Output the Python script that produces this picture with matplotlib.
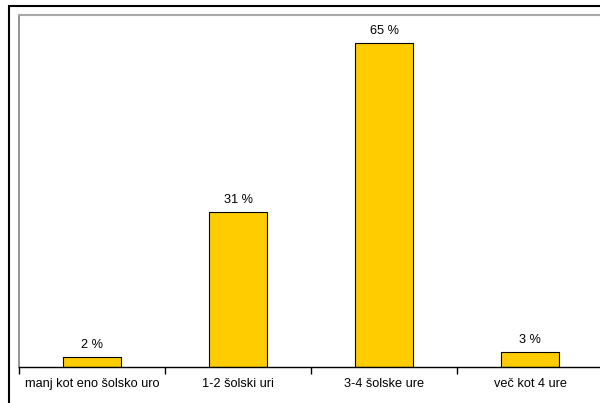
import matplotlib
matplotlib.use("Agg")
import matplotlib.pyplot as plt
import matplotlib.patches as mpatches

# ── Data ────────────────────────────────────────────────────────────────
CATEGORIES = ["manj kot eno šolsko uro", "1-2 šolski uri",
              "3-4 šolske ure", "več kot 4 ure"]
PERCENTS = [2, 31, 65, 3]

BAR_COLOR = "#FFCC00"

plt.rcParams["font.family"] = ["Liberation Sans", "DejaVu Sans"]

fig = plt.figure(figsize=(6.0, 4.03), dpi=100)

# outer chart-area frame (cut off at right and bottom like the original)
fig.patches.append(mpatches.Rectangle(
    (9 / 600, -0.1), 1.2, 1 - 6 / 403 + 0.1,
    transform=fig.transFigure, fill=False, edgecolor="black", linewidth=1.5))

ax = fig.add_axes([19 / 600, 36 / 403, 584 / 600, 352 / 403])

x = list(range(len(CATEGORIES)))
bars = ax.bar(x, PERCENTS, width=0.4, color=BAR_COLOR,
              edgecolor="black", linewidth=0.8)

for xi, v in zip(x, PERCENTS):
    ax.text(xi, v + 1.2, f"{v} %", ha="center", va="bottom", fontsize=9.2)

ax.set_xlim(-0.5, 3.5)
ax.set_ylim(0, 70.6)

ax.set_xticks(x)
ax.set_xticklabels(CATEGORIES, fontsize=9.2)
ax.tick_params(axis="x", which="major", length=0, pad=8)
ax.set_xticks([-0.5, 0.5, 1.5, 2.5, 3.5], minor=True)
ax.tick_params(axis="x", which="minor", length=5, width=1, color="black")
ax.set_yticks([])

ax.spines["left"].set_color("#808080")
ax.spines["top"].set_color("#a8a8a8")
ax.spines["top"].set_linewidth(1.5)
ax.spines["left"].set_linewidth(1.2)
ax.spines["right"].set_visible(False)
ax.spines["bottom"].set_color("black")
ax.spines["bottom"].set_linewidth(1.0)

fig.savefig("out.png", dpi=100, facecolor="white")
